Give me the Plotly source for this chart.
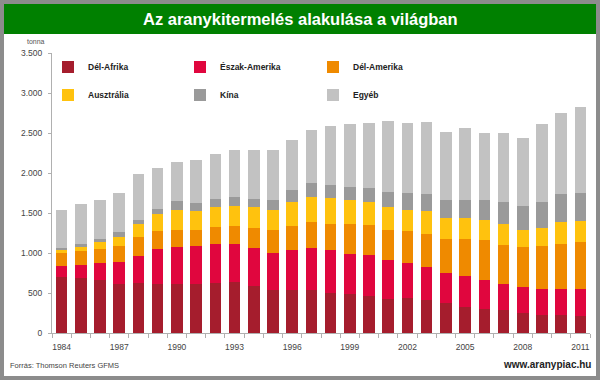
import plotly.graph_objects as go

years = list(range(1984, 2012))
del_afrika = [700, 692, 658, 617, 625, 617, 617, 617, 625, 637, 587, 533, 542, 533, 500, 483, 462, 421,
              433, 408, 375, 325, 304, 283, 250, 229, 221, 212]
eszak_amerika = [142, 158, 217, 271, 342, 433, 458, 466, 483, 480, 480, 467, 491, 534, 533, 500, 509, 496,
                 442, 417, 379, 383, 354, 334, 325, 325, 325, 342]
del_amerika = [158, 175, 179, 204, 233, 225, 217, 209, 217, 225, 250, 283, 309, 316, 334, 384, 379, 366,
               400, 408, 425, 467, 509, 487, 496, 534, 571, 584]
ausztralia = [42, 50, 83, 108, 158, 217, 250, 233, 250, 250, 258, 259, 291, 317, 316, 300, 292, 292,
              267, 292, 258, 267, 241, 254, 212, 225, 271, 266]
kina = [25, 33, 42, 63, 59, 62, 108, 100, 104, 108, 104, 116, 150, 175, 163, 158, 175, 192,
        208, 217, 230, 225, 250, 275, 305, 325, 350, 350]
egyeb = [475, 500, 479, 487, 575, 504, 488, 542, 563, 592, 604, 625, 634, 658, 737, 783, 808, 883,
         875, 900, 841, 900, 842, 867, 850, 975, 1008, 1071]

series = [
    ("Dél-Afrika", del_afrika, "#A51D2D"),
    ("Észak-Amerika", eszak_amerika, "#E0063E"),
    ("Dél-Amerika", del_amerika, "#EF8A00"),
    ("Ausztrália", ausztralia, "#FFC20E"),
    ("Kína", kina, "#9A9A9A"),
    ("Egyéb", egyeb, "#C2C2C2"),
]
tick_years = [1984, 1987, 1990, 1993, 1996, 1999, 2002, 2005, 2008, 2011]
y_ticks = [0, 500, 1000, 1500, 2000, 2500, 3000, 3500]

FONT = "Arial, Liberation Sans, sans-serif"
W, H = 600, 380
L, R, T, B = 52, 10, 53, 47
PW, PH = W - L - R, H - T - B


def xp(px):
    return (px - L) / PW


def yp(py):
    return (H - B - py) / PH


# legend slot positions (pixel) : column left edges, row centres
leg_cols = [48, 180, 313]
leg_rows = [67, 95]

fig = go.Figure()
legend_layout = {}
for i, (name, vals, color) in enumerate(series):
    key = "legend" if i == 0 else f"legend{i + 1}"
    fig.add_trace(go.Bar(x=years, y=vals, name=name, marker_color=color,
                         marker_line_width=0, legend=key))
    legend_layout[key] = dict(
        x=xp(leg_cols[i % 3]), y=yp(leg_rows[i // 3]), xanchor="left", yanchor="middle",
        bgcolor="rgba(0,0,0,0)", borderwidth=0, orientation="h",
        font=dict(family=FONT, size=8.5, color="#222", weight="bold"))

fig.update_layout(
    width=W, height=H,
    margin=dict(l=L, r=R, t=T, b=B),
    barmode="stack", bargap=0.4,
    separators=",.",
    paper_bgcolor="#8C8C8C",
    plot_bgcolor="rgba(0,0,0,0)",
    font=dict(family=FONT, size=9, color="#333"),
    showlegend=True,
    xaxis=dict(range=[1983.5, 2011.5], tickvals=tick_years, ticktext=[str(y) for y in tick_years],
               ticks="", showgrid=False, zeroline=False, showline=True, linecolor="#B0B0B0",
               linewidth=1, tickfont=dict(family=FONT, size=8.5, color="#444"),
               ticklabelstandoff=6,
               minor=dict(ticks="outside", tick0=1983.5, dtick=1, ticklen=4, tickcolor="#B0B0B0",
                          showgrid=False)),
    yaxis=dict(range=[0, 3500], tickvals=y_ticks, tickformat=",d", ticks="outside", ticklen=3,
               tickcolor="#B0B0B0", showgrid=False, zeroline=False, showline=True,
               linecolor="#B0B0B0", linewidth=1, ticklabelstandoff=4,
               tickfont=dict(family=FONT, size=8.5, color="#444")),
    shapes=[
        dict(type="rect", xref="paper", yref="paper", x0=xp(4), x1=xp(596), y0=yp(376), y1=yp(4),
             fillcolor="white", line_width=0, layer="below"),
        dict(type="rect", xref="paper", yref="paper", x0=xp(4), x1=xp(596), y0=yp(34), y1=yp(4),
             fillcolor="#008000", line_width=0, layer="below"),
    ],
    annotations=[
        dict(text="<b>Az aranykitermelés alakulása a világban</b>", xref="paper", yref="paper",
             x=xp(300), y=yp(19), xanchor="center", yanchor="middle", showarrow=False,
             font=dict(family=FONT, size=16.5, color="white")),
        dict(text="tonna", xref="paper", yref="paper", x=xp(36), y=yp(42), xanchor="center",
             yanchor="middle", showarrow=False, font=dict(family=FONT, size=7, color="#555")),
        dict(text="Forrás: Thomson Reuters GFMS", xref="paper", yref="paper", x=xp(8), y=yp(365),
             xanchor="left", yanchor="middle", showarrow=False,
             font=dict(family=FONT, size=7.5, color="#444")),
        dict(text="<b>www.aranypiac.hu</b>", xref="paper", yref="paper", x=xp(593), y=yp(364),
             xanchor="right", yanchor="middle", showarrow=False,
             font=dict(family=FONT, size=10, color="#222")),
    ],
    **legend_layout,
)

fig.write_html("out.html",
               config={"displayModeBar": False},
               post_script="document.body.style.margin='0';document.body.style.padding='0';"
                           "document.body.style.overflow='hidden';")
